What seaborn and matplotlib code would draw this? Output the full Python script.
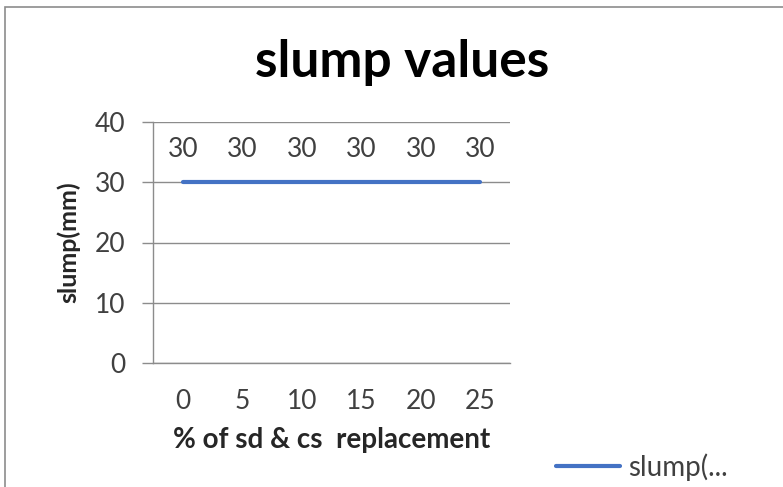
import matplotlib
matplotlib.use("Agg")
import matplotlib.pyplot as plt
from matplotlib.patches import Rectangle
from matplotlib.ticker import FixedLocator
import seaborn as sns
import pandas as pd

# Slump test results for each replacement level
replacement = ["0", "5", "10", "15", "20", "25"]
slump_mm = [30, 30, 30, 30, 30, 30]
series_name = "slump(mm)"
y_ticks = [0, 10, 20, 30, 40]

df = pd.DataFrame({"replacement": replacement, "slump": slump_mm})

sns.set_style("white")
plt.rcParams["font.family"] = ["Lato", "DejaVu Sans"]

W, H = 783, 487
fig = plt.figure(figsize=(W / 100, H / 100), dpi=100)
ax = fig.add_axes([153 / W, 1 - 363 / H, (510 - 153) / W, (363 - 122) / H])

line_color = "#4472C4"
grid_color = "#8C8C8C"
text_color = "#404040"

sns.lineplot(data=df, x="replacement", y="slump", ax=ax, color=line_color,
             linewidth=3, label="slump(...", sort=False)

# value labels above each point
for i, v in enumerate(slump_mm):
    ax.annotate(str(v), (i, v), xytext=(0, 14.5), textcoords="offset points",
                ha="center", va="bottom", fontsize=19, color=text_color)

ax.set_xlim(-0.5, len(replacement) - 0.5)
ax.set_ylim(0, 40)
ax.set_yticks(y_ticks)
ax.set_xticks(range(len(replacement)))
ax.set_xticklabels(replacement)
ax.xaxis.set_minor_locator(FixedLocator([i - 0.5 for i in range(len(replacement) + 1)]))

ax.grid(axis="y", color=grid_color, linewidth=1)
ax.set_axisbelow(True)
for side in ["top", "right"]:
    ax.spines[side].set_visible(False)
for side in ["left", "bottom"]:
    ax.spines[side].set_color(grid_color)
    ax.spines[side].set_linewidth(1)

ax.tick_params(axis="x", which="major", length=0, pad=19, labelsize=19, labelcolor=text_color)
ax.tick_params(axis="x", which="minor", length=7, width=1, color=grid_color, direction="out")
ax.tick_params(axis="y", length=8, width=1, color=grid_color, pad=12, labelsize=19,
               labelcolor=text_color, left=True)

ax.set_xlabel("% of sd & cs  replacement", fontsize=20, fontweight="bold", labelpad=9)
ax.set_ylabel(series_name, fontsize=18, fontweight="bold", labelpad=10)

fig.text(402 / W, 1 - 62 / H, "slump values", ha="center", va="center",
         fontsize=37, fontweight="bold", color="black")

leg = ax.legend(loc="center left", bbox_to_anchor=(531 / W, 1 - 467 / H),
                bbox_transform=fig.transFigure, frameon=False, fontsize=20,
                handlelength=2.3, handletextpad=0.3)
for t in leg.get_texts():
    t.set_color(text_color)

# chart frame
fig.patches.append(Rectangle((5 / W, -0.1), 2.0, (H - 7) / H + 0.1,
                             transform=fig.transFigure, fill=False,
                             edgecolor="#8C8C8C", linewidth=1.2))

fig.savefig("out.png", dpi=100)
